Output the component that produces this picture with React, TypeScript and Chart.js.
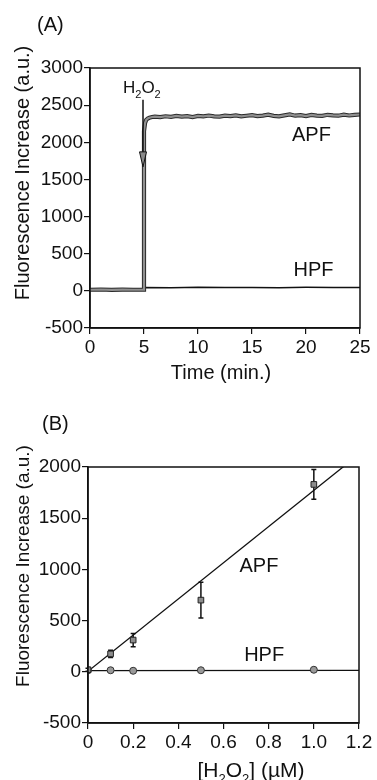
import React, { useEffect, useRef } from 'react';
import { Chart, registerables } from 'chart.js';

Chart.register(...registerables);

const FONT = "'Liberation Sans', Arial, Helvetica, sans-serif";

// ---------- Panel A data ----------
const timeA = [
  0, 1, 2, 3, 4, 5, 5, 5.1, 5.2, 5.35, 5.5, 5.75, 6, 6.5, 7, 7.5, 8, 8.5, 9, 9.5, 10,
  10.5, 11, 11.5, 12, 12.5, 13, 13.5, 14, 14.5, 15, 15.5, 16, 16.5, 17, 17.5, 18, 18.5,
  19, 19.5, 20, 20.5, 21, 21.5, 22, 22.5, 23, 23.5, 24, 24.5, 25,
];
const apfA = [
  15, 18, 14, 16, 15, 17, 2150, 2260, 2300, 2320, 2330, 2340, 2345, 2338, 2350, 2342, 2355, 2346, 2352, 2340, 2356,
  2348, 2360, 2350, 2345, 2358, 2352, 2362, 2349, 2357, 2366, 2352, 2360, 2371, 2355, 2349, 2363, 2375,
  2358, 2366, 2352, 2368, 2360, 2356, 2370, 2362, 2358, 2372, 2361, 2368, 2374,
];
const hpfTimeA = [0, 1, 2, 3, 4, 5, 5, 7.5, 10, 12.5, 15, 17.5, 20, 22.5, 25];
const hpfA = [12, 14, 12, 13, 12, 14, 45, 42, 48, 44, 46, 43, 47, 45, 44];
const arrowA = { x: 5, yFrom: 2571, yTo: 1669 };

// ---------- Panel B data ----------
const concB = [0, 0.1, 0.2, 0.5, 1.0];
const apfB = [20, 175, 310, 700, 1830];
const apfErrB = [15, 35, 65, 175, 145];
const hpfB = [15, 15, 10, 15, 20];
const apfFitX = [0, 1.2];
const apfFitY = [5, 2125];
const hpfFitX = [0, 1.2];
const hpfFitY = [12, 14];
const xTickLabelsB = ['0', '0.2', '0.4', '0.6', '0.8', '1.0', '1.2'];

const toXY = (xs: number[], ys: number[]) => xs.map((x, i) => ({ x, y: ys[i] }));

const framePlugin = {
  id: 'frame',
  afterDatasetsDraw(chart: any) {
    const { ctx, chartArea: a } = chart;
    ctx.save();
    ctx.strokeStyle = '#111';
    ctx.lineWidth = 1.5;
    ctx.strokeRect(a.left, a.top, a.right - a.left, a.bottom - a.top);
    ctx.restore();
  },
};

function drawSubText(ctx: any, parts: { t: string; s: number; sub?: boolean }[], x: number, baseline: number, align: 'left' | 'center') {
  let total = 0;
  parts.forEach((p) => {
    ctx.font = `${p.s}px ${FONT}`;
    total += ctx.measureText(p.t).width;
  });
  let cx = align === 'center' ? x - total / 2 : x;
  ctx.textAlign = 'left';
  ctx.textBaseline = 'alphabetic';
  parts.forEach((p) => {
    ctx.font = `${p.s}px ${FONT}`;
    ctx.fillText(p.t, cx, baseline + (p.sub ? p.s * 0.45 : 0));
    cx += ctx.measureText(p.t).width;
  });
}

function makeScale(min: number, max: number, step: number, axis: 'x' | 'y', size: number, labels?: string[]) {
  return {
    type: 'linear',
    min,
    max,
    ticks: {
      stepSize: step,
      autoSkip: false,
      maxRotation: 0,
      color: '#111',
      padding: axis === 'x' ? 2 : 1,
      font: { family: FONT, size: 19 },
      callback: labels ? (_v: any, i: number) => labels[i] : undefined,
    },
    grid: { drawOnChartArea: false, drawTicks: true, tickLength: 6, color: '#111', lineWidth: 1.2 },
    border: { display: true, color: '#111', width: 1.5 },
    afterFit: (s: any) => {
      if (axis === 'x') s.height = size;
      else s.width = size;
    },
  } as any;
}

export default function App() {
  const refA = useRef<HTMLCanvasElement>(null);
  const refB = useRef<HTMLCanvasElement>(null);

  useEffect(() => {
    const textA = {
      id: 'textA',
      afterDraw(chart: any) {
        const { ctx, scales } = chart;
        const xs = scales.x;
        const ys = scales.y;
        ctx.save();
        ctx.fillStyle = '#111';
        // arrow
        const ax = xs.getPixelForValue(arrowA.x) - 1;
        const y0 = ys.getPixelForValue(arrowA.yFrom);
        const y1 = ys.getPixelForValue(arrowA.yTo);
        ctx.strokeStyle = '#111';
        ctx.lineWidth = 1.5;
        ctx.beginPath();
        ctx.moveTo(ax, y0);
        ctx.lineTo(ax, y1 - 10);
        ctx.stroke();
        ctx.beginPath();
        ctx.moveTo(ax, y1);
        ctx.lineTo(ax - 3.5, y1 - 15);
        ctx.lineTo(ax + 3.5, y1 - 15);
        ctx.closePath();
        ctx.fillStyle = '#8a8a8a';
        ctx.fill();
        ctx.lineWidth = 1;
        ctx.stroke();
        ctx.fillStyle = '#111';
        // H2O2 label
        drawSubText(
          ctx,
          [
            { t: 'H', s: 17 },
            { t: '2', s: 11, sub: true },
            { t: 'O', s: 17 },
            { t: '2', s: 11, sub: true },
          ],
          ax - 20,
          ys.getPixelForValue(2665),
          'left'
        );
        ctx.font = `20px ${FONT}`;
        ctx.textAlign = 'center';
        ctx.textBaseline = 'middle';
        ctx.fillText('APF', xs.getPixelForValue(20.5), ys.getPixelForValue(2093));
        ctx.fillText('HPF', xs.getPixelForValue(20.7), ys.getPixelForValue(276));
        // panel label
        ctx.textAlign = 'left';
        ctx.textBaseline = 'alphabetic';
        ctx.fillText('(A)', 37, 31);
        // x title
        ctx.textAlign = 'center';
        ctx.fillText('Time (min.)', 221, 379);
        // y title
        ctx.translate(23, 173);
        ctx.rotate(-Math.PI / 2);
        ctx.textBaseline = 'middle';
        ctx.fillText('Fluorescence Increase (a.u.)', 0, 0);
        ctx.restore();
      },
    };

    const errorBars = {
      id: 'errorBars',
      beforeDatasetsDraw(chart: any) {
        const { ctx, scales } = chart;
        ctx.save();
        ctx.strokeStyle = '#111';
        ctx.lineWidth = 1.5;
        concB.forEach((c, i) => {
          const px = scales.x.getPixelForValue(c);
          const top = scales.y.getPixelForValue(apfB[i] + apfErrB[i]);
          const bot = scales.y.getPixelForValue(apfB[i] - apfErrB[i]);
          ctx.beginPath();
          ctx.moveTo(px, top);
          ctx.lineTo(px, bot);
          ctx.moveTo(px - 2.5, top);
          ctx.lineTo(px + 2.5, top);
          ctx.moveTo(px - 2.5, bot);
          ctx.lineTo(px + 2.5, bot);
          ctx.stroke();
        });
        ctx.restore();
      },
    };

    const textB = {
      id: 'textB',
      afterDraw(chart: any) {
        const { ctx, scales } = chart;
        const xs = scales.x;
        const ys = scales.y;
        ctx.save();
        ctx.fillStyle = '#111';
        ctx.font = `20px ${FONT}`;
        ctx.textAlign = 'center';
        ctx.textBaseline = 'middle';
        ctx.fillText('APF', xs.getPixelForValue(0.757), ys.getPixelForValue(1025));
        ctx.fillText('HPF', xs.getPixelForValue(0.78), ys.getPixelForValue(156));
        ctx.textAlign = 'left';
        ctx.textBaseline = 'alphabetic';
        ctx.fillText('(B)', 42, 40);
        drawSubText(
          ctx,
          [
            { t: '[H', s: 21 },
            { t: '2', s: 13, sub: true },
            { t: 'O', s: 21 },
            { t: '2', s: 13, sub: true },
            { t: '] (\u00B5M)', s: 21 },
          ],
          251,
          387,
          'center'
        );
        ctx.font = `19px ${FONT}`;
        ctx.translate(24, 176);
        ctx.rotate(-Math.PI / 2);
        ctx.textAlign = 'center';
        ctx.textBaseline = 'middle';
        ctx.fillText('Fluorescence Increase (a.u.)', 0, 0);
        ctx.restore();
      },
    };

    const common = {
      animation: false,
      responsive: false,
      events: [],
      plugins: { legend: { display: false }, tooltip: { enabled: false } },
    };

    const chartA = new Chart(refA.current as HTMLCanvasElement, {
      type: 'line',
      data: {
        datasets: [
          { label: 'APF', data: toXY(timeA, apfA), borderColor: '#909090', borderWidth: 2.2, pointRadius: 0, order: 0 },
          { label: 'APF edge', data: toXY(timeA, apfA), borderColor: '#2a2a2a', borderWidth: 4.2, pointRadius: 0, order: 1 },
          { label: 'HPF', data: toXY(hpfTimeA, hpfA), borderColor: '#111', borderWidth: 1.5, pointRadius: 0, order: 2 },
        ],
      },
      options: {
        ...common,
        layout: { padding: { top: 68, right: 17, bottom: 32, left: 0 } },
        scales: {
          x: makeScale(0, 25, 5, 'x', 30),
          y: makeScale(-500, 3000, 500, 'y', 90),
        },
      } as any,
      plugins: [framePlugin, textA],
    });

    const chartB = new Chart(refB.current as HTMLCanvasElement, {
      type: 'line',
      data: {
        datasets: [
          {
            label: 'APF',
            data: toXY(concB, apfB),
            showLine: false,
            pointStyle: 'rect',
            pointRadius: 4,
            backgroundColor: '#8c8c8c',
            borderColor: '#222',
            borderWidth: 1,
            order: 0,
          },
          {
            label: 'HPF',
            data: toXY(concB, hpfB),
            showLine: false,
            pointStyle: 'circle',
            pointRadius: 3.5,
            backgroundColor: '#999',
            borderColor: '#333',
            borderWidth: 1,
            order: 1,
          },
          { label: 'APF fit', data: toXY(apfFitX, apfFitY), borderColor: '#111', borderWidth: 1.3, pointRadius: 0, order: 2 },
          { label: 'HPF fit', data: toXY(hpfFitX, hpfFitY), borderColor: '#111', borderWidth: 1.3, pointRadius: 0, order: 3 },
        ],
      },
      options: {
        ...common,
        layout: { padding: { top: 77, right: 18, bottom: 27, left: 0 } },
        scales: {
          x: makeScale(0, 1.2, 0.2, 'x', 30, xTickLabelsB),
          y: makeScale(-500, 2000, 500, 'y', 88),
        },
      } as any,
      plugins: [framePlugin, errorBars, textB],
    });

    return () => {
      chartA.destroy();
      chartB.destroy();
    };
  }, []);

  return (
    <div style={{ position: 'fixed', left: 0, top: 0, width: 377, height: 780, background: '#fff' }}>
      <canvas ref={refA} width={377} height={390} style={{ position: 'absolute', left: 0, top: 0, display: 'block' }} />
      <canvas ref={refB} width={377} height={390} style={{ position: 'absolute', left: 0, top: 390, display: 'block' }} />
    </div>
  );
}
